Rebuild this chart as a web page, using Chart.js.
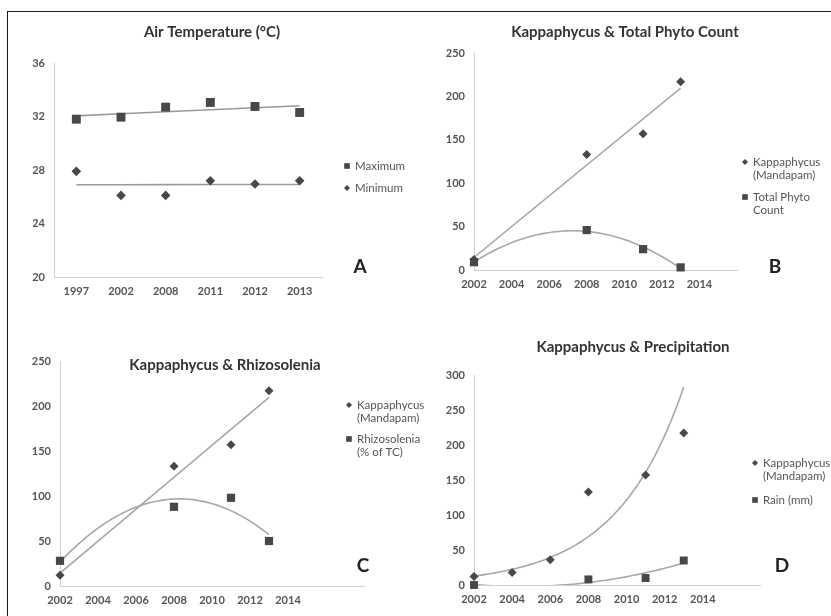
<!DOCTYPE html>
<html>
<head>
<meta charset="utf-8">
<script src="https://cdn.jsdelivr.net/npm/chart.js@4.4.1/dist/chart.umd.min.js"></script>
<style>
  html, body { margin: 0; padding: 0; background: #fff; }
  #figure { position: relative; width: 831px; height: 616px; overflow: hidden; background: #fff; }
  #frame { position: absolute; left: 7px; top: 11px; width: 900px; height: 700px;
           border-left: 1px solid #1a1a1a; border-top: 1px solid #1a1a1a; }
  canvas { position: absolute; }
</style>
</head>
<body>
<div id="figure">
  <div id="frame"></div>
  <canvas id="chartA" width="415" height="308" style="left:0;top:0"></canvas>
  <canvas id="chartB" width="416" height="308" style="left:415px;top:0"></canvas>
  <canvas id="chartC" width="440" height="308" style="left:0;top:308px"></canvas>
  <canvas id="chartD" width="416" height="308" style="left:415px;top:308px"></canvas>
</div>
<script>
// air temperature, yearly max / min (°C)
const tempYears = ['1997', '2002', '2008', '2011', '2012', '2013'];
const tempMax = [31.8, 31.95, 32.7, 33.05, 32.75, 32.3];
const tempMin = [27.9, 26.1, 26.1, 27.2, 26.95, 27.2];

// Kappaphycus at Mandapam vs phytoplankton
const kappaYears = [2002, 2008, 2011, 2013];
const kappaValues = [12, 133, 157, 217];
const phytoCount = [9, 46, 24, 3];
const rhizoPct = [28, 88, 98, 50];

// Kappaphycus vs rainfall
const kappaYearsD = [2002, 2004, 2006, 2008, 2011, 2013];
const kappaValuesD = [12, 18, 36, 133, 157, 217];
const rainYears = [2002, 2008, 2011, 2013];
const rainMm = [0, 8, 10, 35];

const BASE = 2002;
const MARK = '#484848';
const TREND = '#a8a8a8';
const AXIS = '#cfcfcf';
const TICK_FONT = { family: 'Lato', size: 11, weight: 'bold' };

Chart.defaults.font.family = 'Lato';

// least squares trendlines
function linearFit(xs, ys) {
  const n = xs.length;
  const mx = xs.reduce((s, v) => s + v, 0) / n;
  const my = ys.reduce((s, v) => s + v, 0) / n;
  let sxy = 0, sxx = 0;
  xs.forEach((x, i) => { sxy += (x - mx) * (ys[i] - my); sxx += (x - mx) * (x - mx); });
  const b = sxy / sxx;
  return x => my + b * (x - mx);
}

function polyFit2(xs, ys) {
  const S = k => xs.reduce((s, x) => s + Math.pow(x, k), 0);
  const T = k => xs.reduce((s, x, i) => s + Math.pow(x, k) * ys[i], 0);
  const m = [[S(0), S(1), S(2), T(0)], [S(1), S(2), S(3), T(1)], [S(2), S(3), S(4), T(2)]];
  for (let c = 0; c < 3; c++) {
    for (let r = c + 1; r < 3; r++) {
      const f = m[r][c] / m[c][c];
      for (let k = c; k < 4; k++) m[r][k] -= f * m[c][k];
    }
  }
  const q = [0, 0, 0];
  for (let r = 2; r >= 0; r--) {
    let v = m[r][3];
    for (let k = r + 1; k < 3; k++) v -= m[r][k] * q[k];
    q[r] = v / m[r][r];
  }
  return x => q[0] + q[1] * x + q[2] * x * x;
}

function expFit(xs, ys) {
  const lin = linearFit(xs, ys.map(Math.log));
  return x => Math.exp(lin(x));
}

function trendPoints(fn, x0, x1, steps) {
  const pts = [];
  for (let i = 0; i <= steps; i++) {
    const x = x0 + (x1 - x0) * i / steps;
    pts.push({ x: x, y: fn(x - BASE) });
  }
  return pts;
}

const rel = xs => xs.map(x => x - BASE);
const pairs = (xs, ys) => xs.map((x, i) => ({ x: x, y: ys[i] }));

// titles, legends and panel letters
const panelText = {
  id: 'panelText',
  afterDraw(chart, args, o) {
    const ctx = chart.ctx;
    ctx.save();
    ctx.fillStyle = '#333';
    ctx.font = 'bold 15px Lato';
    ctx.textAlign = 'center';
    ctx.textBaseline = 'middle';
    ctx.fillText(o.title, o.titleX, o.titleY);

    ctx.font = 'bold 19px Lato';
    ctx.fillStyle = '#222';
    ctx.fillText(o.letter, o.letterX, o.letterY);

    ctx.textAlign = 'left';
    ctx.font = '11.5px Lato';
    o.legend.forEach(item => {
      const ds = chart.data.datasets[item.dataset];
      ctx.fillStyle = MARK;
      ctx.strokeStyle = MARK;
      ctx.lineWidth = 1;
      Chart.helpers.drawPoint(ctx, { pointStyle: ds.pointStyle, radius: item.radius, rotation: 0, borderWidth: 0 },
        o.legendX, item.y);
      ctx.fillStyle = '#555';
      item.lines.forEach((line, i) => ctx.fillText(line, o.legendX + 8, item.y + i * 13.5));
    });
    ctx.restore();
  }
};

function markerSet(label, data, style, radius) {
  return {
    label: label, data: data, showLine: false, pointStyle: style, pointRadius: radius,
    backgroundColor: MARK, borderColor: MARK, borderWidth: 0, clip: false
  };
}

function trendSet(label, data) {
  return {
    label: label, data: data, showLine: true, pointRadius: 0, borderColor: TREND,
    borderWidth: 1.6, fill: false, clip: 0, order: 5
  };
}

function yearAxis(max, afterLast) {
  return {
    type: 'linear', min: 2002, max: max,
    grid: { display: false, drawTicks: false },
    border: { color: AXIS },
    ticks: { stepSize: 2, padding: 8, font: TICK_FONT, color: '#555', includeBounds: false,
             callback: v => (v <= afterLast ? String(v) : '') },
    afterFit: s => { s.height = 30; }
  };
}

function valueAxis(min, max, step) {
  return {
    min: min, max: max,
    grid: { display: false, drawTicks: false },
    border: { color: AXIS },
    ticks: { stepSize: step, padding: 9, font: TICK_FONT, color: '#555' },
    afterFit: s => { s.width = 30; }
  };
}

const common = {
  responsive: false,
  animation: false,
  events: []
};

// A: air temperature
const idx = tempYears.map((_, i) => i);
const maxTrend = linearFit(idx, tempMax);
const minTrend = linearFit(idx, tempMin);
new Chart(document.getElementById('chartA'), {
  type: 'line',
  data: {
    labels: tempYears,
    datasets: [
      markerSet('Maximum', tempMax, 'rect', 6.3),
      markerSet('Minimum', tempMin, 'rectRot', 4.8),
      Object.assign(trendSet('Linear (Maximum)', idx.map(maxTrend)), { borderColor: '#9a9a9a' }),
      Object.assign(trendSet('Linear (Minimum)', idx.map(minTrend)), { borderColor: '#9a9a9a' })
    ]
  },
  options: Object.assign({}, common, {
    layout: { padding: { left: 24, right: 93, top: 63, bottom: 1 } },
    scales: {
      x: {
        offset: true,
        grid: { display: false, drawTicks: false },
        border: { color: AXIS },
        ticks: { padding: 8, font: TICK_FONT, color: '#555' },
        afterFit: s => { s.height = 30; }
      },
      y: valueAxis(20, 36, 4)
    },
    plugins: {
      legend: { display: false },
      tooltip: { enabled: false },
      panelText: {
        title: 'Air Temperature (°C)', titleX: 212, titleY: 32,
        letter: 'A', letterX: 360, letterY: 267,
        legendX: 347,
        legend: [
          { dataset: 0, radius: 4, y: 166, lines: ['Maximum'] },
          { dataset: 1, radius: 3, y: 188, lines: ['Minimum'] }
        ]
      }
    }
  }),
  plugins: [panelText]
});

// B: Kappaphycus & total phyto count
new Chart(document.getElementById('chartB'), {
  type: 'scatter',
  data: {
    datasets: [
      markerSet('Total Phyto Count', pairs(kappaYears, phytoCount), 'rect', 5.8),
      markerSet('Kappaphycus (Mandapam)', pairs(kappaYears, kappaValues), 'rectRot', 4.5),
      trendSet('Linear (Kappaphycus)', trendPoints(linearFit(rel(kappaYears), kappaValues), 2002, 2013, 1)),
      trendSet('Poly. (Total Phyto Count)', trendPoints(polyFit2(rel(kappaYears), phytoCount), 2002, 2013, 60))
    ]
  },
  options: Object.assign({}, common, {
    layout: { padding: { left: 29, right: 94, top: 53, bottom: 8 } },
    scales: { x: yearAxis(2016, 2014), y: valueAxis(0, 250, 50) },
    plugins: {
      legend: { display: false },
      tooltip: { enabled: false },
      panelText: {
        title: 'Kappaphycus & Total Phyto Count', titleX: 210, titleY: 32,
        letter: 'B', letterX: 360, letterY: 267,
        legendX: 330,
        legend: [
          { dataset: 1, radius: 3, y: 162, lines: ['Kappaphycus', '(Mandapam)'] },
          { dataset: 0, radius: 4, y: 197, lines: ['Total Phyto', 'Count'] }
        ]
      }
    }
  }),
  plugins: [panelText]
});

// C: Kappaphycus & Rhizosolenia
new Chart(document.getElementById('chartC'), {
  type: 'scatter',
  data: {
    datasets: [
      markerSet('Rhizosolenia (% of TC)', pairs(kappaYears, rhizoPct), 'rect', 5.8),
      markerSet('Kappaphycus (Mandapam)', pairs(kappaYears, kappaValues), 'rectRot', 4.5),
      trendSet('Linear (Kappaphycus)', trendPoints(linearFit(rel(kappaYears), kappaValues), 2002, 2013, 1)),
      trendSet('Poly. (Rhizosolenia)', trendPoints(polyFit2(rel(kappaYears), rhizoPct), 2002, 2013, 60))
    ]
  },
  options: Object.assign({}, common, {
    layout: { padding: { left: 30, right: 76, top: 53, bottom: 0 } },
    scales: { x: yearAxis(2018, 2014), y: valueAxis(0, 250, 50) },
    plugins: {
      legend: { display: false },
      tooltip: { enabled: false },
      panelText: {
        title: 'Kappaphycus & Rhizosolenia', titleX: 225, titleY: 57,
        letter: 'C', letterX: 363, letterY: 258,
        legendX: 349,
        legend: [
          { dataset: 1, radius: 3, y: 97, lines: ['Kappaphycus', '(Mandapam)'] },
          { dataset: 0, radius: 4, y: 131, lines: ['Rhizosolenia', '(% of TC)'] }
        ]
      }
    }
  }),
  plugins: [panelText]
});

// D: Kappaphycus & precipitation
new Chart(document.getElementById('chartD'), {
  type: 'scatter',
  data: {
    datasets: [
      markerSet('Rain (mm)', pairs(rainYears, rainMm), 'rect', 5.6),
      markerSet('Kappaphycus (Mandapam)', pairs(kappaYearsD, kappaValuesD), 'rectRot', 4.5),
      trendSet('Expon. (Kappaphycus)', trendPoints(expFit(rel(kappaYearsD), kappaValuesD), 2002, 2013, 60)),
      trendSet('Poly. (Rain)', trendPoints(polyFit2(rel(rainYears), rainMm), 2002, 2013, 60))
    ]
  },
  options: Object.assign({}, common, {
    layout: { padding: { left: 29, right: 71, top: 67, bottom: 1 } },
    scales: { x: yearAxis(2017, 2014), y: valueAxis(0, 300, 50) },
    plugins: {
      legend: { display: false },
      tooltip: { enabled: false },
      panelText: {
        title: 'Kappaphycus & Precipitation', titleX: 218, titleY: 39,
        letter: 'D', letterX: 367, letterY: 258,
        legendX: 340,
        legend: [
          { dataset: 1, radius: 3, y: 155, lines: ['Kappaphycus', '(Mandapam)'] },
          { dataset: 0, radius: 4, y: 192, lines: ['Rain (mm)'] }
        ]
      }
    }
  }),
  plugins: [panelText]
});
</script>
</body>
</html>
